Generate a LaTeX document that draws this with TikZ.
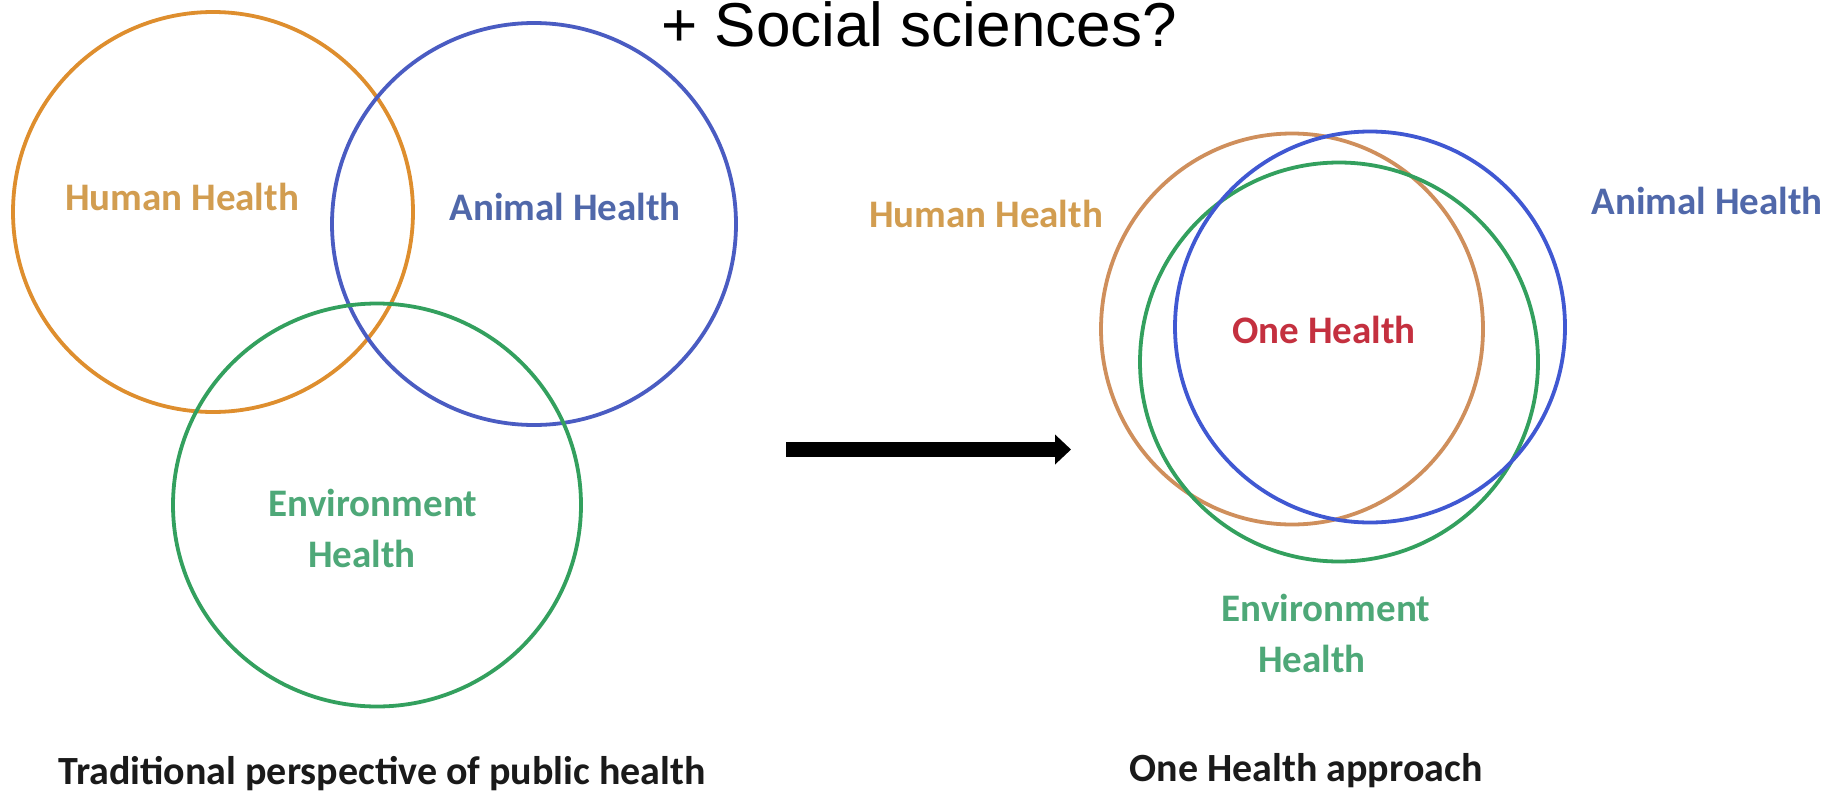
\documentclass[tikz,border=0pt]{standalone}
\usepackage{fontspec}
\setmainfont{Carlito}
\newfontfamily\arialfont{Liberation Sans}
\usetikzlibrary{shapes.geometric,arrows.meta}
\definecolor{orL}{HTML}{DE8E2E}
\definecolor{orR}{HTML}{CF8F5C}
\definecolor{orT}{HTML}{D29D50}
\definecolor{blL}{HTML}{4A5CC2}
\definecolor{blR}{HTML}{4058D2}
\definecolor{blT}{HTML}{5068AA}
\definecolor{grC}{HTML}{33A05E}
\definecolor{grT}{HTML}{4EA878}
\definecolor{rdT}{HTML}{C4303F}
\definecolor{blkT}{HTML}{1A1A1A}
\tikzset{
  ring/.style={draw, ellipse, line width=3.8pt, inner sep=0pt},
  lbl/.style={font=\fontsize{39}{46}\selectfont\bfseries, align=center, inner sep=0pt},
  ttl/.style={font=\fontsize{40}{46}\selectfont\bfseries, text=blkT, inner sep=0pt, anchor=base},
}
\begin{document}
\begin{tikzpicture}[x=1pt,y=-1pt]
\useasboundingbox[fill=white] (0,0) rectangle (1843,795);
% left Venn
\node[ring, draw=orL, minimum width=400pt, minimum height=400pt] (hcL) at (213,212) {};
\node[ring, draw=blL, minimum width=404pt, minimum height=402pt] (acL) at (534,224) {};
\node[ring, draw=grC, minimum width=408pt, minimum height=403pt] (ecL) at (377,505) {};
\node[lbl, text=orT] (hhL) at (182,197) {Human Health};
\node[lbl, text=blT] (ahL) at (565,207) {Animal Health};
\node[lbl, text=grT] (ehL) at (373,528) {Environment\\[5pt]Health\hspace*{22pt}};
\node[ttl] (tL) at (382,784) {Traditional perspective of public health};
% right nested
\node[ring, draw=orR, minimum width=382pt, minimum height=391pt] (hcR) at (1292,329) {};
\node[ring, draw=grC, minimum width=398pt, minimum height=399pt] (ecR) at (1339,362) {};
\node[ring, draw=blR, minimum width=390pt, minimum height=391pt] (acR) at (1370,327) {};
\node[lbl, text=orT] (hhR) at (986,214) {Human Health};
\node[lbl, text=blT] (ahR) at (1707,201) {Animal Health};
\node[lbl, text=rdT] (oh) at (1324,330) {One Health};
\node[lbl, text=grT] (ehR) at (1326,633) {Environment\\[5pt]Health\hspace*{28pt}};
\node[ttl] (tR) at (1306,781) {One Health approach};
% top text
\node[font=\arialfont\fontsize{62}{70}\selectfont, inner sep=0pt, anchor=base] (soc) at (919,46) {+ Social sciences?};
% arrow
\coordinate (aS) at (786,449.5);
\coordinate (aE) at (1071,449.5);
\draw[line width=15pt, black!35, opacity=0.5, -{Triangle[width=29pt,length=16pt]}, shift={(2pt,-4pt)}] (aS) -- (aE);
\draw[line width=15pt, black, -{Triangle[width=29pt,length=16pt]}] (aS) -- (aE);
\end{tikzpicture}
\end{document}
